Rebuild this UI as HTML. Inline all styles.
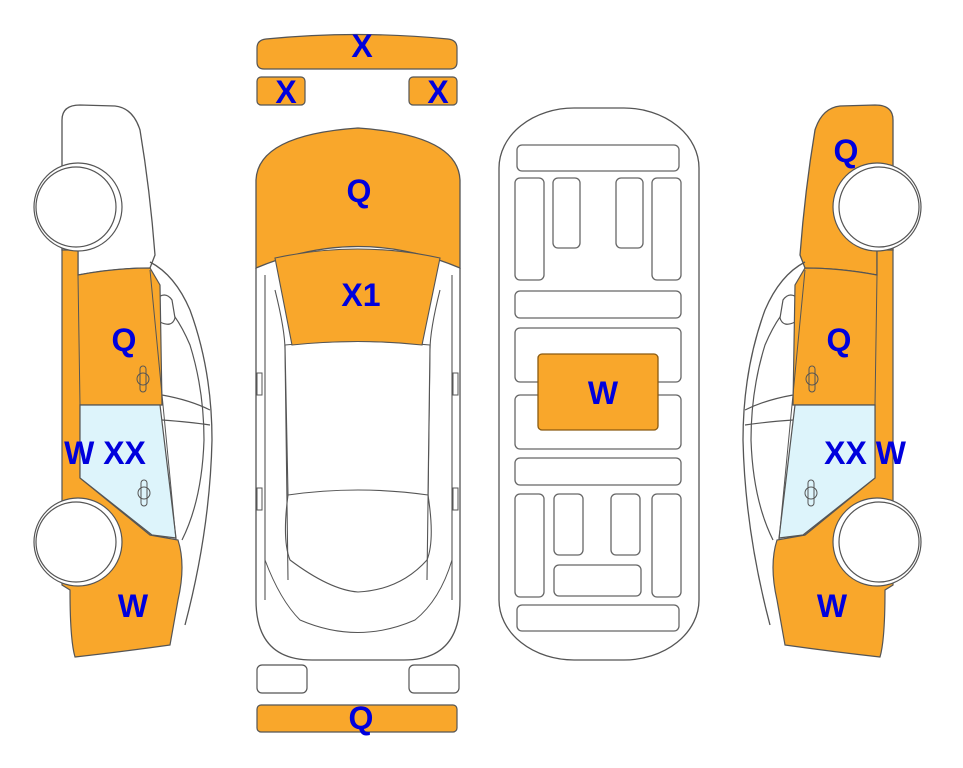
<!DOCTYPE html>
<html><head><meta charset="utf-8"><style>
html,body{margin:0;padding:0;background:#fff;}
svg{display:block}
text{font-family:"Liberation Sans",Arial,sans-serif;font-weight:bold;font-size:32px;fill:#0000dd;text-anchor:middle}
</style></head><body>
<svg width="963" height="768" viewBox="0 0 963 768" xmlns="http://www.w3.org/2000/svg">
<defs>
<g id="side">
  <path d="M150,262 Q175,275 190,310 Q212,370 212,440 Q210,530 185,625" fill="none" stroke="#555" stroke-width="1.3"/>
  <path d="M158,300 Q175,310 190,345 Q204,390 204,440 Q202,500 182,540" fill="none" stroke="#555" stroke-width="1.2"/>
  <path d="M162,395 Q190,400 210,410 M162,420 Q190,422 210,425" fill="none" stroke="#555" stroke-width="1.2"/>
  <path d="M155,300 Q150,310 160,322 Q172,328 175,318 L172,300 Q165,290 155,300 Z" fill="#fff" stroke="#555" stroke-width="1.2"/>
  <path d="M62,250 L78,250 L78,275 Q115,268 150,268 L160,285 L162,405 L80,405 L80,478 L150,535 L178,540 Q186,565 178,600 L170,645 Q120,652 75,657 Q70,640 70,590 L62,585 Z" fill="#F9A72B" stroke="#555" stroke-width="1.2"/>
  <path d="M80,405 L160,405 L176,538 L152,535 L80,478 Z" fill="#DDF4FB" stroke="#555" stroke-width="1.2"/>
  <path d="M150,270 L163,405 L176,540 M78,275 L80,405" fill="none" stroke="#555" stroke-width="1"/>
  <rect x="140" y="366" width="6" height="26" rx="3" fill="none" stroke="#555"/>
  <circle cx="143" cy="379" r="6" fill="none" stroke="#555"/>
  <rect x="141" y="480" width="6" height="26" rx="3" fill="none" stroke="#555"/>
  <circle cx="144" cy="493" r="6" fill="none" stroke="#555"/>
  <circle cx="78" cy="207" r="44" fill="#fff" stroke="#555" stroke-width="1.2"/>
  <circle cx="76" cy="207" r="40" fill="#fff" stroke="#555" stroke-width="1.2"/>
  <circle cx="78" cy="542" r="44" fill="#fff" stroke="#555" stroke-width="1.2"/>
  <circle cx="76" cy="542" r="40" fill="#fff" stroke="#555" stroke-width="1.2"/>
</g>
</defs>

<path d="M62,250 L62,120 Q62,105 80,105 L115,106 Q133,108 140,130 Q150,190 155,255 L150,268 Q115,268 78,275 L78,250 Z" fill="#fff" stroke="#555" stroke-width="1.3"/>
<use href="#side"/>

<g transform="translate(955,0) scale(-1,1)">
<path d="M62,250 L62,120 Q62,105 80,105 L115,106 Q133,108 140,130 Q150,190 155,255 L150,268 Q115,268 78,275 L78,250 Z" fill="#F9A72B" stroke="#555" stroke-width="1.3"/>
<use href="#side"/>
</g>

<path d="M257,48 Q257,40 266,39 Q357,30 448,39 Q457,40 457,48 L457,62 Q457,69 450,69 L264,69 Q257,69 257,62 Z" fill="#F9A72B" stroke="#555" stroke-width="1.2"/>
<rect x="257" y="77" width="48" height="28" rx="4" fill="#F9A72B" stroke="#555" stroke-width="1.2"/>
<rect x="409" y="77" width="48" height="28" rx="4" fill="#F9A72B" stroke="#555" stroke-width="1.2"/>
<path d="M256,268 L256,600 Q256,660 312,660 L404,660 Q460,660 460,600 L460,268" fill="#fff" stroke="#555" stroke-width="1.3"/>
<path d="M265,275 L265,600 M452,275 L452,600 M275,290 Q285,330 285,350 L288,580 M440,290 Q430,330 430,350 L427,580" fill="none" stroke="#555" stroke-width="1.1"/>
<path d="M285,345 Q358,338 430,345 L428,495 Q358,485 288,495 Z" fill="#fff" stroke="#555" stroke-width="1.1"/>
<path d="M288,495 Q282,540 290,560 Q330,590 358,592 Q400,590 427,560 Q435,540 428,495" fill="none" stroke="#555" stroke-width="1.1"/>
<path d="M265,560 Q280,600 300,620 Q358,645 415,620 Q440,600 452,560" fill="none" stroke="#555" stroke-width="1"/>
<path d="M256,268 L256,180 Q258,135 358,128 Q458,135 460,180 L460,268 Q358,225 256,268 Z" fill="#F9A72B" stroke="#555" stroke-width="1.3"/>
<path d="M275,258 Q358,240 440,258 L422,345 Q358,338 292,345 Z" fill="#F9A72B" stroke="#555" stroke-width="1.1"/>
<rect x="257" y="373" width="5" height="22" fill="#fff" stroke="#555"/>
<rect x="453" y="373" width="5" height="22" fill="#fff" stroke="#555"/>
<rect x="257" y="488" width="5" height="22" fill="#fff" stroke="#555"/>
<rect x="453" y="488" width="5" height="22" fill="#fff" stroke="#555"/>
<rect x="257" y="665" width="50" height="28" rx="5" fill="#fff" stroke="#555" stroke-width="1.2"/>
<rect x="409" y="665" width="50" height="28" rx="5" fill="#fff" stroke="#555" stroke-width="1.2"/>
<rect x="257" y="705" width="200" height="27" rx="4" fill="#F9A72B" stroke="#555" stroke-width="1.2"/>

<rect x="499" y="108" width="200" height="552" rx="75" ry="60" fill="#fff" stroke="#555" stroke-width="1.3"/>
<g fill="#fff" stroke="#666" stroke-width="1.3">
<rect x="517" y="145" width="162" height="26" rx="5"/>
<rect x="515" y="178" width="29" height="102" rx="5"/>
<rect x="553" y="178" width="27" height="70" rx="5"/>
<rect x="616" y="178" width="27" height="70" rx="5"/>
<rect x="652" y="178" width="29" height="102" rx="5"/>
<rect x="515" y="291" width="166" height="27" rx="5"/>
<rect x="515" y="328" width="166" height="54" rx="5"/>
<rect x="515" y="395" width="166" height="54" rx="5"/>
<rect x="515" y="458" width="166" height="27" rx="5"/>
<rect x="515" y="494" width="29" height="103" rx="5"/>
<rect x="554" y="494" width="29" height="61" rx="5"/>
<rect x="611" y="494" width="29" height="61" rx="5"/>
<rect x="652" y="494" width="29" height="103" rx="5"/>
<rect x="554" y="565" width="87" height="31" rx="5"/>
<rect x="517" y="605" width="162" height="26" rx="5"/>
</g>
<rect x="538" y="354" width="120" height="76" rx="4" fill="#F9A72B" stroke="#8a5a10" stroke-width="1.3"/>

<text x="362" y="57">X</text>
<text x="286" y="103">X</text>
<text x="438" y="103">X</text>
<text x="359" y="202">Q</text>
<text x="361" y="306">X1</text>
<text x="603" y="404">W</text>
<text x="361" y="729">Q</text>
<text x="124" y="351">Q</text>
<text x="105" y="464">W XX</text>
<text x="133" y="617">W</text>
<text x="846" y="162">Q</text>
<text x="839" y="351">Q</text>
<text x="865" y="464">XX W</text>
<text x="832" y="617">W</text>
</svg>
</body></html>
